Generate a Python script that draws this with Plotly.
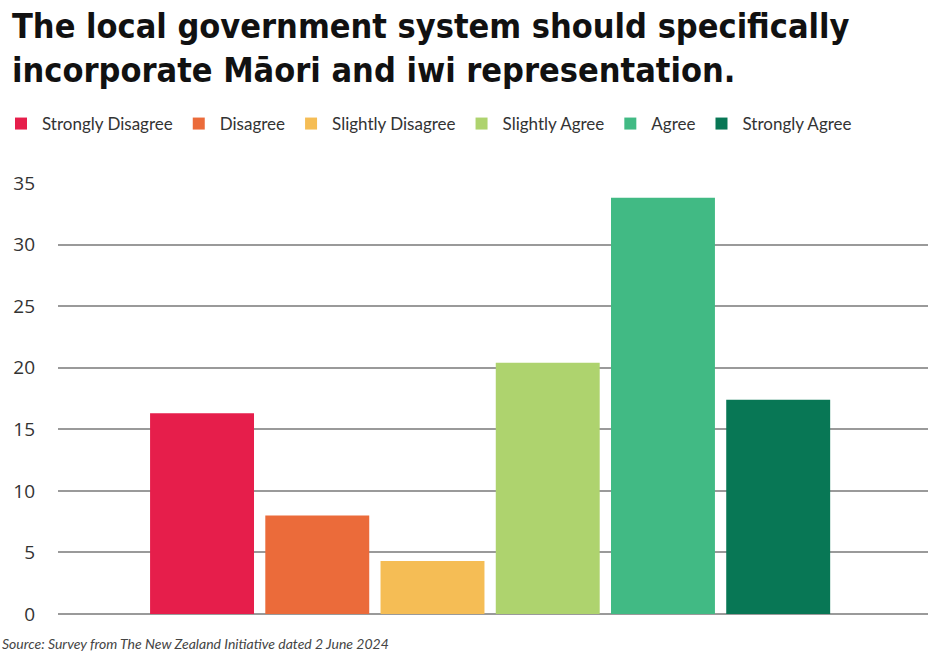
import plotly.graph_objects as go

# ── Data: survey response shares (%) ──────────────────────────────────────
categories = ["Strongly Disagree", "Disagree", "Slightly Disagree",
              "Slightly Agree", "Agree", "Strongly Agree"]
values = [16.3, 8.0, 4.3, 20.4, 33.8, 17.4]
colors = ["#E61E4B", "#EB6B3A", "#F5BD55", "#AED36E", "#41BA84", "#087755"]
y_ticks = [0, 5, 10, 15, 20, 25, 30, 35]

TEXT_FONT = "Lato, Open Sans, Arial"
TITLE = "The local government system should specifically<br>incorporate Māori and iwi representation."

fig = go.Figure()
for i, (cat, val, col) in enumerate(zip(categories, values, colors)):
    fig.add_trace(go.Bar(
        x=[i], y=[val], name=cat,
        marker=dict(color=col, line=dict(width=0)),
        hovertemplate=f"<b>{cat}</b><br>%{{y}}<extra></extra>",
    ))

# plot area spans x 58..928, y 183..614 (pixels)
def px_x(p):
    return (p - 58) / 870

def px_y(p):
    return (614 - p) / 431

fig.update_layout(
    barmode="overlay",
    bargap=0.098,
    xaxis=dict(
        range=[-1.25, 6.3],
        showticklabels=False, showgrid=False, zeroline=False,
        fixedrange=True,
    ),
    yaxis=dict(
        range=[0, 35],
        tickvals=y_ticks,
        tickfont=dict(size=19, color="#333", family="Open Sans, Lato"),
        gridcolor="#9a9a9a", gridwidth=1.5,
        zeroline=True, zerolinecolor="#9a9a9a", zerolinewidth=1.5,
        ticklabelstandoff=22,
        showline=False,
    ),
    legend=dict(
        orientation="h",
        xref="container", x=0.0, xanchor="left",
        yref="container", y=(656 - 124) / 656, yanchor="middle",
        font=dict(size=17, color="#333", family=TEXT_FONT),
        itemwidth=32,
        traceorder="normal",
    ),
    annotations=[
        dict(
            text=TITLE,
            xref="paper", yref="paper",
            x=px_x(10), y=px_y(4),
            xanchor="left", yanchor="top", align="left", showarrow=False,
            font=dict(size=34, color="#111",
                      family="DejaVu Sans Condensed, Roboto, Inter", weight="bold"),
        ),
        dict(
            text="<i>Source: Survey from The New Zealand Initiative dated 2 June 2024</i>",
            xref="paper", yref="paper",
            x=px_x(0), y=px_y(643),
            xanchor="left", yanchor="middle", showarrow=False,
            font=dict(size=14, color="#444", family=TEXT_FONT),
        ),
    ],
    plot_bgcolor="white",
    paper_bgcolor="white",
    margin=dict(l=58, r=0, t=183, b=42),
    width=928,
    height=656,
    showlegend=True,
)

# drop the browser's default body margin so the figure sits at the window's corner
fig.write_html("out.html", config={"displayModeBar": False},
               post_script="document.body.style.margin='0';")
